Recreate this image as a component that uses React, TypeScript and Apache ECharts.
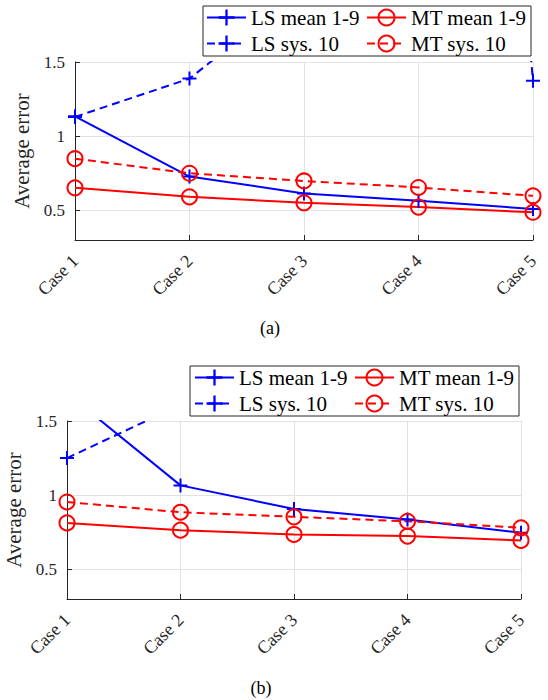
import React, { useEffect, useRef } from "react";
import * as echarts from "echarts";

// ---------- data ----------
const categories = ["Case 1", "Case 2", "Case 3", "Case 4", "Case 5"];
const yTicks = [0.5, 1, 1.5];
const seriesNames = ["LS mean 1-9", "MT mean 1-9", "LS sys. 10", "MT sys. 10"];

// panel (a)
const aLsMean = [1.134, 0.728, 0.614, 0.564, 0.509];
const aMtMean = [0.652, 0.591, 0.551, 0.522, 0.487];
const aLsSys = [1.13, 1.388, 2.0, 10.0, 1.373];
const aMtSys = [0.848, 0.75, 0.698, 0.654, 0.598];

// panel (b)
const bLsMean = [1.687, 1.066, 0.907, 0.836, 0.746];
const bMtMean = [0.813, 0.764, 0.735, 0.724, 0.695];
const bLsSys = [1.25, 1.609, 2.1, 2.4, 2.6];
const bMtSys = [0.954, 0.885, 0.854, 0.824, 0.78];

const captions = ["(a)", "(b)"];

// ---------- styles ----------
const BLUE = "#0000ff";
const RED = "#ff0000";
const AXIS = "#262626";
const GRID = "#e2e2e2";
const FONT = "Liberation Serif";
const PLUS = "path://M0,6 H6 V0 H8 V6 H14 V8 H8 V14 H6 V8 H0 Z";

function lineSeries(name: string, data: number[], idx: number, color: string, dashed: boolean, plus: boolean) {
  return {
    type: "line",
    name,
    data,
    xAxisIndex: idx,
    yAxisIndex: idx,
    clip: true,
    symbol: plus ? PLUS : "circle",
    symbolSize: plus ? 14 : 15,
    showAllSymbol: true,
    lineStyle: { color, width: 2, type: dashed ? [8, 5] : "solid" },
    itemStyle: plus
      ? { color, borderWidth: 0 }
      : { color: "rgba(0,0,0,0)", borderColor: color, borderWidth: 2 },
    emphasis: { disabled: true },
  };
}

function panelSeries(idx: number, lsMean: number[], mtMean: number[], lsSys: number[], mtSys: number[]) {
  return [
    lineSeries(seriesNames[0], lsMean, idx, BLUE, false, true),
    lineSeries(seriesNames[1], mtMean, idx, RED, false, false),
    lineSeries(seriesNames[2], lsSys, idx, BLUE, true, true),
    lineSeries(seriesNames[3], mtSys, idx, RED, true, false),
  ];
}

function xAxis(idx: number) {
  return {
    type: "category",
    gridIndex: idx,
    data: categories,
    boundaryGap: false,
    axisLine: { show: true, lineStyle: { color: AXIS, width: 1 } },
    axisTick: { show: true, inside: true, length: 5, lineStyle: { color: AXIS } },
    axisLabel: { rotate: 45, margin: 18, fontSize: 18, fontFamily: FONT, color: AXIS },
    splitLine: { show: true, lineStyle: { color: GRID, width: 1 } },
  };
}

function yAxis(idx: number, nameGap: number) {
  return {
    type: "value",
    gridIndex: idx,
    min: 0.3,
    max: 1.5,
    name: "Average error",
    nameLocation: "middle",
    nameRotate: 90,
    nameGap,
    nameTextStyle: { fontSize: 21, fontFamily: FONT, color: AXIS },
    axisLine: { show: true, lineStyle: { color: AXIS, width: 1 } },
    axisTick: { show: true, inside: true, length: 5, customValues: yTicks, lineStyle: { color: AXIS } },
    axisLabel: {
      customValues: yTicks,
      margin: 10,
      fontSize: 17,
      fontFamily: FONT,
      color: AXIS,
      formatter: (v: number) => String(v),
    },
    splitLine: { show: true, lineStyle: { color: GRID, width: 1 } },
  };
}

function legend(data: string[], left: number, top: number) {
  return {
    data,
    orient: "vertical",
    left,
    top,
    padding: 0,
    itemWidth: 39,
    itemHeight: 20,
    itemGap: 5,
    selectedMode: false,
    textStyle: { fontSize: 21, fontFamily: FONT, color: "#000" },
  };
}

export default function App() {
  const ref = useRef<HTMLDivElement>(null);

  useEffect(() => {
    if (!ref.current) return;
    const chart = echarts.init(ref.current, undefined, { renderer: "svg" });
    chart.setOption({
      animation: false,
      backgroundColor: "#ffffff",
      textStyle: { fontFamily: FONT },
      grid: [
        { left: 75, top: 62, width: 458, height: 178, containLabel: false, outerBoundsMode: "none" },
        { left: 67, top: 421, width: 454, height: 178, containLabel: false, outerBoundsMode: "none" },
      ],
      xAxis: [xAxis(0), xAxis(1)],
      yAxis: [yAxis(0, 40), yAxis(1, 43)],
      legend: [
        legend([seriesNames[0], seriesNames[2]], 206, 7),
        legend([seriesNames[1], seriesNames[3]], 366, 7),
        legend([seriesNames[0], seriesNames[2]], 194, 367),
        legend([seriesNames[1], seriesNames[3]], 354, 367),
      ],
      graphic: [
        {
          type: "rect",
          shape: { x: 203, y: 6, width: 328, height: 50 },
          style: { fill: "#fff", stroke: AXIS, lineWidth: 1 },
          z: -1,
        },
        {
          type: "rect",
          shape: { x: 190, y: 366, width: 329, height: 50 },
          style: { fill: "#fff", stroke: AXIS, lineWidth: 1 },
          z: -1,
        },
        {
          type: "text",
          x: 270,
          y: 328,
          style: { text: captions[0], fontSize: 18, fontFamily: FONT, fill: "#000", align: "center", verticalAlign: "middle" },
        },
        {
          type: "text",
          x: 261,
          y: 688,
          style: { text: captions[1], fontSize: 18, fontFamily: FONT, fill: "#000", align: "center", verticalAlign: "middle" },
        },
      ],
      series: [
        ...panelSeries(0, aLsMean, aMtMean, aLsSys, aMtSys),
        ...panelSeries(1, bLsMean, bMtMean, bLsSys, bMtSys),
      ],
    });
    return () => chart.dispose();
  }, []);

  return (
    <div
      ref={ref}
      style={{ position: "absolute", left: 0, top: 0, width: 548, height: 700, background: "#fff" }}
    />
  );
}
